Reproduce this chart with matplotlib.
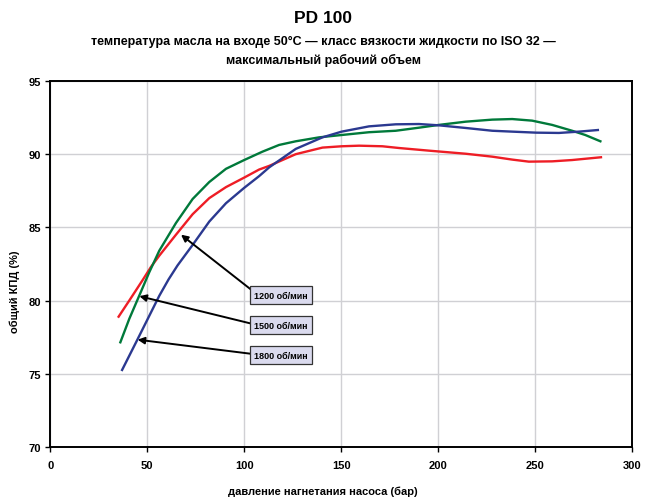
import matplotlib
matplotlib.use("Agg")
import matplotlib.pyplot as plt

plt.rcParams['font.family'] = ['Liberation Sans', 'DejaVu Sans']
plt.rcParams['font.weight'] = 'bold'

# 1200 rpm (red)
x_1200 = [35.2, 40.7, 47.6, 51.9, 56.2, 64.8, 73.4, 82, 90.6, 100, 107.7, 112.9, 126.6, 140.4, 150.3,
          159.3, 171.3, 180, 195.4, 214.3, 228, 238.3, 246.9, 258.9, 269.2, 284.1]
y_1200 = [78.9, 80.0, 81.4, 82.3, 83.07, 84.5, 85.9, 87.0, 87.75, 88.4, 88.95, 89.2, 90.0, 90.45, 90.54,
          90.58, 90.54, 90.42, 90.24, 90.03, 89.83, 89.63, 89.49, 89.51, 89.6, 89.79]

# 1500 rpm (green)
x_1500 = [36.1, 40.7, 45.9, 51, 56.2, 64.8, 73.4, 82, 90.6, 100, 109.4, 118, 126.6, 138.7, 150.3,
          164.4, 178.2, 190.2, 200.5, 214.3, 228, 238.3, 248.6, 258.9, 269.2, 276, 283.8]
y_1500 = [77.15, 78.75, 80.35, 81.93, 83.41, 85.3, 86.94, 88.1, 89.0, 89.6, 90.17, 90.63, 90.88, 91.15, 91.31,
          91.5, 91.6, 91.81, 92.0, 92.22, 92.36, 92.4, 92.29, 92.0, 91.6, 91.31, 90.88]

# 1800 rpm (blue)
x_1800 = [37, 44.2, 50.2, 56.2, 61, 65.6, 73.4, 82, 90.6, 100, 107.7, 112.9, 126.6, 140.4, 150.3,
          164.4, 178.2, 190.2, 200.5, 214.3, 228, 238.3, 250.7, 262.4, 272.7, 282.5]
y_1800 = [75.26, 77.15, 78.74, 80.33, 81.45, 82.4, 83.8, 85.4, 86.65, 87.7, 88.5, 89.1, 90.36, 91.15, 91.54,
          91.9, 92.04, 92.06, 91.97, 91.79, 91.6, 91.54, 91.47, 91.45, 91.54, 91.65]

labels = ['1200 об/мин', '1500 об/мин', '1800 об/мин']
label_pos = [(119, 80.38), (119, 78.33), (119, 76.28)]
arrow_tail = [(104.5, 80.65), (104.5, 78.4), (104.5, 76.35)]
arrow_tip = [(67.4, 84.5), (45.9, 80.3), (45.0, 77.33)]

x_ticks = [0, 50, 100, 150, 200, 250, 300]
y_ticks = [70, 75, 80, 85, 90, 95]

fig = plt.figure(figsize=(6.46, 5.02), dpi=100)
ax = fig.add_axes([0.078, 0.1076, 0.900, 0.7291])

ax.plot(x_1200, y_1200, color='#EE1D25', lw=1.7, zorder=3, solid_joinstyle='round')
ax.plot(x_1500, y_1500, color='#00793A', lw=1.7, zorder=3, solid_joinstyle='round')
ax.plot(x_1800, y_1800, color='#2B3990', lw=1.7, zorder=3, solid_joinstyle='round')

for lab, pos, tail, tip in zip(labels, label_pos, arrow_tail, arrow_tip):
    ax.annotate('', xy=tip, xytext=tail,
                arrowprops=dict(arrowstyle='-|>', color='black', lw=1.4,
                                mutation_scale=10, shrinkA=0, shrinkB=0), zorder=4)
    ax.text(pos[0], pos[1], lab, fontsize=6.5, ha='center', va='center', zorder=5,
            bbox=dict(boxstyle='square,pad=0.45', fc='#DADAEE', ec='#333333', lw=0.9))

ax.set_xlim(0, 300)
ax.set_ylim(70, 95)
ax.set_xticks(x_ticks)
ax.set_yticks(y_ticks)
ax.tick_params(axis='both', labelsize=8, length=3.5, width=1, direction='out')
ax.tick_params(axis='x', pad=6)
ax.grid(True, color='#D0D0D4', lw=1)
ax.set_axisbelow(True)
for s in ax.spines.values():
    s.set_color('black')
    s.set_linewidth(1.4)

fig.text(0.5, 0.020, 'давление нагнетания насоса (бар)', ha='center', va='center', fontsize=8)
fig.text(0.023, 0.418, 'общий КПД (%)', ha='center', va='center', rotation=90, fontsize=8)

fig.text(0.5, 0.964, 'PD 100', ha='center', va='center', fontsize=12.5)
fig.text(0.5, 0.916, 'температура масла на входе 50°C — класс вязкости жидкости по ISO 32 —',
         ha='center', va='center', fontsize=9)
fig.text(0.5, 0.880, 'максимальный рабочий объем', ha='center', va='center', fontsize=9)

fig.savefig('out.png', dpi=100)
